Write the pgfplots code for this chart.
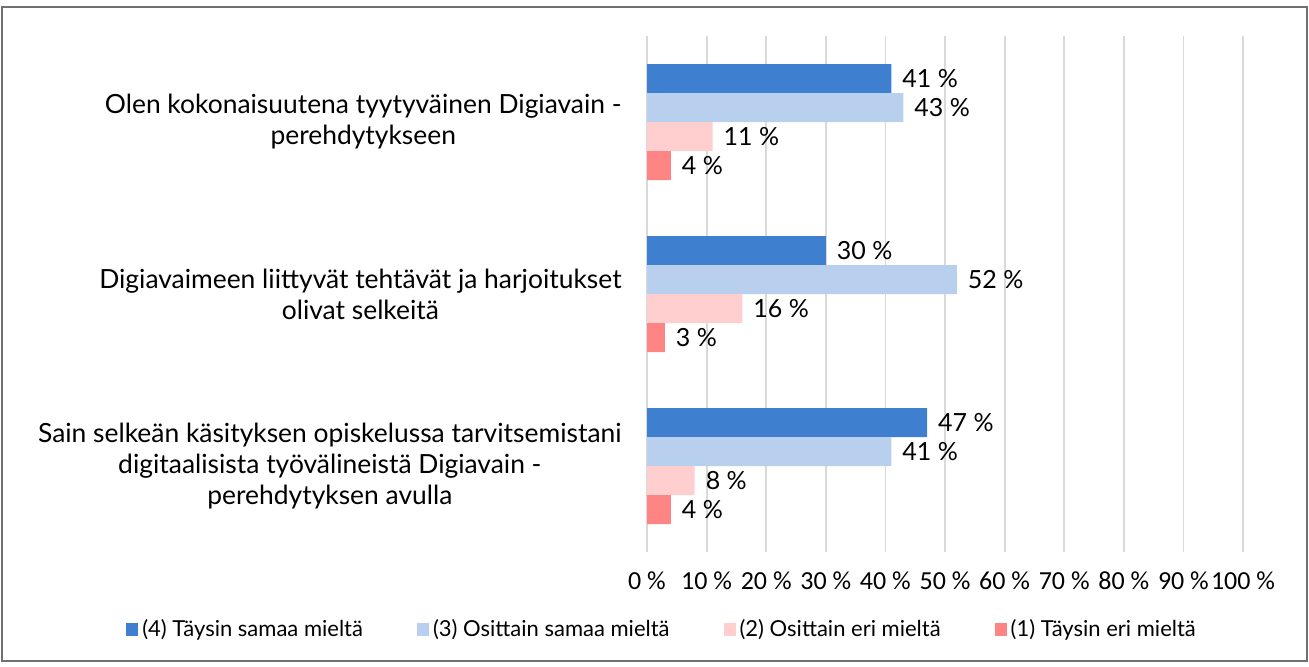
\documentclass[border=0pt]{standalone}
\usepackage{pgfplots}
\pgfplotsset{compat=1.18}
\usepackage{fontspec}
\setmainfont{Lato}
\newfontfamily\tickfont{Carlito}

\definecolor{cfour}{HTML}{3F7FCF}
\definecolor{cthree}{HTML}{B9CFEE}
\definecolor{ctwo}{HTML}{FFCFCF}
\definecolor{cone}{HTML}{FF8585}
\definecolor{gridgray}{HTML}{D9D9D9}
\definecolor{framegray}{HTML}{707070}

\begin{document}
\begin{tikzpicture}
\useasboundingbox (0,0) rectangle (654.5pt,333pt);
\draw[framegray, line width=0.9pt] (1pt,2.5pt) rectangle (653.5pt,329.5pt);
\begin{axis}[
  at={(323.5pt,57pt)}, anchor=south west,
  scale only axis, width=298pt, height=258pt,
  xbar, bar width=14.5pt,
  xmin=0, xmax=100, ymin=-0.5, ymax=2.5, y dir=reverse,
  axis line style={draw=none},
  major tick length=0pt,
  xmajorgrids=true,
  grid style={gridgray, line width=0.9pt},
  xtick={0,10,...,100},
  xticklabels={0 \%,10 \%,20 \%,30 \%,40 \%,50 \%,60 \%,70 \%,80 \%,90 \%,100 \%},
  xticklabel style={font=\tickfont\fontsize{13}{14}\selectfont, yshift=-6.5pt},
  ytick={0,1,2},
  yticklabels={
    {Olen kokonaisuutena tyytyväinen Digiavain -\\perehdytykseen},
    {Digiavaimeen liittyvät tehtävät ja harjoitukset\\olivat selkeitä},
    {Sain selkeän käsityksen opiskelussa tarvitsemistani\\digitaalisista työvälineistä Digiavain -\\perehdytyksen avulla}},
  yticklabel style={align=center, font=\fontsize{13.2}{15.5}\selectfont, inner sep=0pt, xshift=-12.5pt},
  point meta=x,
  /pgf/number format/assume math mode=true,
  nodes near coords={\pgfmathprintnumber{\pgfplotspointmeta} \%},
  nodes near coords style={font=\fontsize{12.5}{14}\selectfont, anchor=west, xshift=2pt, text=black},
  legend columns=4,
  legend style={draw=none, at={(0.027,-0.151)}, anchor=center,
    font=\fontsize{11}{12}\selectfont,
    /tikz/every even column/.append style={column sep=25pt}},
  legend image code/.code={\fill[#1] (0pt,-3pt) rectangle (6pt,3.5pt);},
  clip=false,
]
\addplot[fill=cfour, draw=none, bar shift=21.75pt] coordinates {(41,0) (30,1) (47,2)};
\addlegendentry{(4) Täysin samaa mieltä}
\addplot[fill=cthree, draw=none, bar shift=7.25pt] coordinates {(43,0) (52,1) (41,2)};
\addlegendentry{(3) Osittain samaa mieltä}
\addplot[fill=ctwo, draw=none, bar shift=-7.25pt] coordinates {(11,0) (16,1) (8,2)};
\addlegendentry{(2) Osittain eri mieltä}
\addplot[fill=cone, draw=none, bar shift=-21.75pt] coordinates {(4,0) (3,1) (4,2)};
\addlegendentry{(1) Täysin eri mieltä}
\end{axis}
\end{tikzpicture}
\end{document}
